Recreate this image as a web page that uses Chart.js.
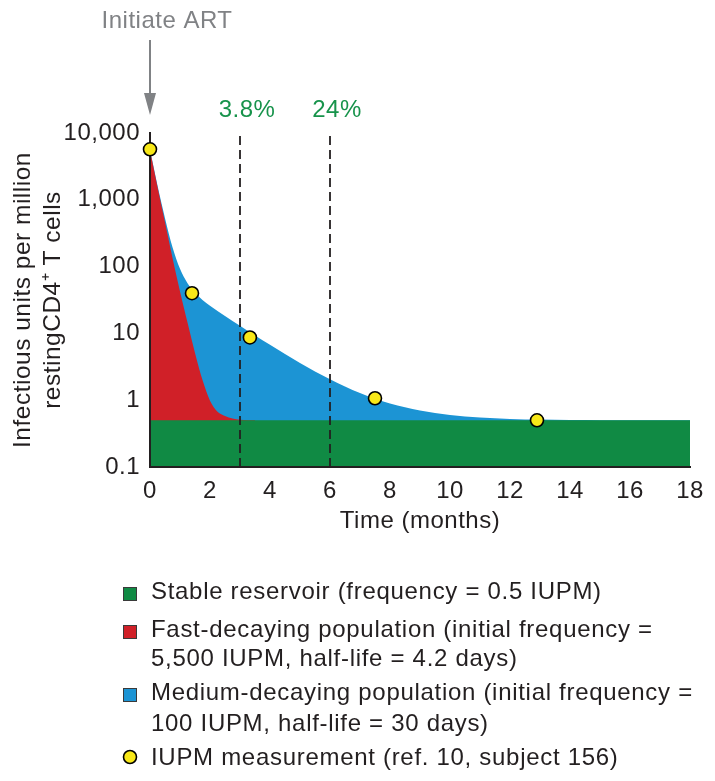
<!DOCTYPE html>
<html lang="en">
<head>
<meta charset="UTF-8">
<title>Reservoir decay after ART</title>
<script src="https://cdn.jsdelivr.net/npm/chart.js"></script>
<style>
  body { margin: 0; background: #fff; }
</style>
</head>
<body>
<canvas id="decayChart" width="715" height="781"></canvas>
<script>
// values (time in months, IUPM on a log axis)
const timeTicks = [0, 2, 4, 6, 8, 10, 12, 14, 16, 18];
const yTicks = [0.1, 1, 10, 100, 1000, 10000];
const yTickLabels = ["0.1", "1", "10", "100", "1,000", "10,000"];

const stableT = [0, 18];
const stableV = [0.5, 0.5];

// top edge of the red band
const fastT = [0, 0.25, 0.5, 0.75, 1, 1.25, 1.5, 1.75, 2, 2.25, 2.5, 2.75, 3, 3.5];
const fastV = [5500, 1550, 460, 135, 42.5, 14.5, 5.1, 2.0, 0.98, 0.67, 0.58, 0.53, 0.51, 0.5];

// top edge of the blue band
const totalT = [0, 0.25, 0.5, 0.75, 1, 1.25, 1.5, 1.75, 2, 2.5, 3, 3.5, 4, 5, 6, 7, 8, 9, 10, 11, 12, 13, 14, 15, 16, 18];
const totalV = [5600, 1635, 531, 195, 92.5, 56.5, 40.5, 31.7, 26, 18.2, 13, 9.3, 6.75, 3.6, 2.06, 1.28, 0.89, 0.70, 0.60, 0.55, 0.524, 0.512, 0.506, 0.503, 0.5015, 0.5];

const measT = [0, 1.4, 3.33, 7.5, 12.9];
const measV = [5700, 40, 8.7, 1.07, 0.5];

const markerMonths = [3, 6];
const markerLabels = ["3.8%", "24%"];

const legendLines = [
    ["Stable reservoir (frequency = 0.5 IUPM)"],
    ["Fast-decaying population (initial frequency =", "5,500 IUPM, half-life = 4.2 days)"],
    ["Medium-decaying population (initial frequency =", "100 IUPM, half-life = 30 days)"],
    ["IUPM measurement (ref. 10, subject 156)"]
];

const GREEN = "#108a44", RED = "#d02028", BLUE = "#1c94d4", YELLOW = "#f8e818";
const INK = "#231f20";
const FONT = "'Liberation Sans', Arial, Helvetica, sans-serif";

Chart.defaults.font.family = FONT;
Chart.defaults.font.size = 24;
Chart.defaults.color = INK;

const toPts = (xs, ys) => xs.map((x, i) => ({ x: x, y: ys[i] }));

const textSpacing = {
    id: "textSpacing",
    beforeDraw(chart) { chart.ctx.letterSpacing = "0.5px"; }
};

const annotations = {
    id: "annotations",
    afterDraw(chart) {
        const ctx = chart.ctx;
        const xs = chart.scales.x;
        const top = chart.chartArea.top;
        ctx.save();
        ctx.font = "24px " + FONT;
        ctx.textAlign = "center";
        ctx.textBaseline = "alphabetic";

        // "Initiate ART" arrow
        const x0 = xs.getPixelForValue(0);
        ctx.fillStyle = "#808285";
        ctx.strokeStyle = "#808285";
        ctx.lineWidth = 2;
        ctx.fillText("Initiate ART", x0 + 17, 28);
        ctx.beginPath(); ctx.moveTo(x0, 40); ctx.lineTo(x0, 96); ctx.stroke();
        ctx.beginPath(); ctx.moveTo(x0 - 6, 93); ctx.lineTo(x0 + 6, 93); ctx.lineTo(x0, top - 18); ctx.closePath(); ctx.fill();

        // percentages over the dashed lines
        ctx.fillStyle = "#17934b";
        markerMonths.forEach((m, i) => ctx.fillText(markerLabels[i], xs.getPixelForValue(m) + 7, top - 16));

        // legend
        const colors = [GREEN, RED, BLUE, YELLOW];
        const baselines = [[599], [637, 666], [700, 731], [765]];
        ctx.textAlign = "left";
        ctx.letterSpacing = "0.7px";
        legendLines.forEach((lines, i) => {
            lines.forEach((t, j) => { ctx.fillStyle = INK; ctx.fillText(t, 151, baselines[i][j]); });
            const b = baselines[i][0];
            if (i < 3) {
                ctx.fillStyle = colors[i];
                ctx.fillRect(123, b - 12, 14, 14);
                ctx.strokeStyle = "#3a3a3a"; ctx.lineWidth = 1;
                ctx.strokeRect(123.5, b - 11.5, 13, 13);
            } else {
                ctx.beginPath(); ctx.arc(130, b - 8, 6.5, 0, Math.PI * 2);
                ctx.fillStyle = colors[i]; ctx.fill();
                ctx.strokeStyle = "#000"; ctx.lineWidth = 1.6; ctx.stroke();
            }
        });
        ctx.restore();
    }
};

new Chart(document.getElementById("decayChart"), {
    type: "line",
    data: {
        datasets: [
            { label: legendLines[0][0], data: toPts(stableT, stableV), backgroundColor: GREEN, borderWidth: 0, pointRadius: 0, fill: "start", order: 2 },
            { label: legendLines[1].join(" "), data: toPts(fastT, fastV), backgroundColor: RED, borderWidth: 0, pointRadius: 0, fill: "start", cubicInterpolationMode: "monotone", order: 3 },
            { label: legendLines[2].join(" "), data: toPts(totalT, totalV), backgroundColor: BLUE, borderWidth: 0, pointRadius: 0, fill: "start", cubicInterpolationMode: "monotone", order: 4 },
            ...markerMonths.map(m => ({ label: "", data: [{ x: m, y: 0.1 }, { x: m, y: 10000 }], borderColor: INK, borderWidth: 1.8, borderDash: [9, 5], pointRadius: 0, fill: false, order: 1 })),
            { label: legendLines[3][0], data: toPts(measT, measV), showLine: false, pointRadius: 6.5, pointBackgroundColor: YELLOW, pointBorderColor: "#000", pointBorderWidth: 1.6, clip: false, order: 0 }
        ]
    },
    options: {
        responsive: false,
        animation: false,
        events: [],
        layout: { padding: { left: 0, top: 133, right: 25, bottom: 234 } },
        plugins: {
            legend: { display: false },
            tooltip: { enabled: false },
            filler: { drawTime: "beforeDraw" }
        },
        scales: {
            x: {
                type: "linear", min: 0, max: 18,
                afterBuildTicks(s) { s.ticks = timeTicks.map(v => ({ value: v })); },
                grid: { display: false, drawTicks: false },
                border: { display: true, color: INK, width: 2 },
                ticks: { padding: 10 },
                title: { display: true, text: "Time (months)", padding: { top: 0, bottom: 11 } },
                afterFit(s) { s.height = 80; }
            },
            y: {
                type: "logarithmic", min: 0.1, max: 10000,
                afterBuildTicks(s) { s.ticks = yTicks.map(v => ({ value: v })); },
                grid: { display: false, drawTicks: false },
                border: { display: true, color: INK, width: 2 },
                ticks: { padding: 10, callback: v => yTickLabels[yTicks.indexOf(v)] },
                title: {
                    display: true,
                    text: ["Infectious units per million", "restingCD4\u207A T cells"],
                    font: { size: 24.5, lineHeight: 1.224 },
                    padding: { top: 8, bottom: 0 }
                },
                afterFit(s) { s.width = 150; }
            }
        }
    },
    plugins: [textSpacing, annotations]
});
</script>
</body>
</html>
